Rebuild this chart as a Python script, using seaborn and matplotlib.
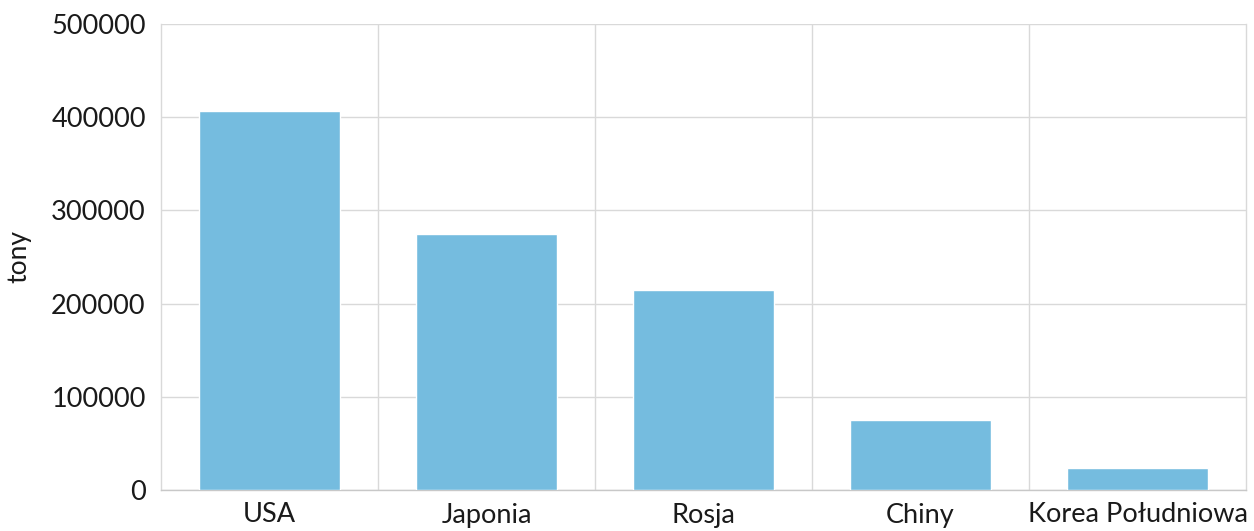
import matplotlib
matplotlib.use("Agg")
import matplotlib.pyplot as plt
import seaborn as sns
import pandas as pd

# Values
countries = ["USA", "Japonia", "Rosja", "Chiny", "Korea Południowa"]
tonnes = [407000, 275000, 215000, 75000, 23500]
y_ticks = [0, 100000, 200000, 300000, 400000, 500000]

sns.set_theme(style="white")
plt.rcParams['font.family'] = ['Lato', 'DejaVu Sans']

data = pd.DataFrame({"kraj": countries, "tony": tonnes})

fig = plt.figure(figsize=(12.54, 5.31), dpi=100)
ax = fig.add_axes([161 / 1254, 1 - 490 / 531, (1246 - 161) / 1254, (490 - 24) / 531])

sns.barplot(data=data, x="kraj", y="tony", color="#75bcdf", saturation=1,
            width=0.65, ax=ax, zorder=3)

ax.set_xlim(-0.5, len(countries) - 0.5)
ax.set_ylim(0, 500000)
ax.set_yticks(y_ticks)
ax.set_yticklabels([str(v) for v in y_ticks])

# category separators as vertical grid lines
ax.set_xticks([i + 0.5 for i in range(len(countries) - 1)], minor=True)
ax.grid(axis="x", which="minor", color="#d9d9d9", linewidth=1, zorder=0)
ax.grid(axis="y", which="major", color="#d9d9d9", linewidth=1, zorder=0)
ax.set_axisbelow(True)

for side in ["left", "right", "bottom"]:
    ax.spines[side].set_visible(True)
    ax.spines[side].set_color("#d9d9d9")
    ax.spines[side].set_linewidth(1)
ax.spines["bottom"].set_color("#c8c8c8")
ax.spines["top"].set_visible(False)

ax.tick_params(axis="both", which="both", length=0, labelsize=19.5, colors="#1a1a1a")
ax.tick_params(axis="y", pad=11)
ax.tick_params(axis="x", pad=9)

ax.set_xlabel("")
ax.set_ylabel("tony", fontsize=19, color="#1a1a1a", labelpad=14)

plt.savefig("out.png", dpi=100)
